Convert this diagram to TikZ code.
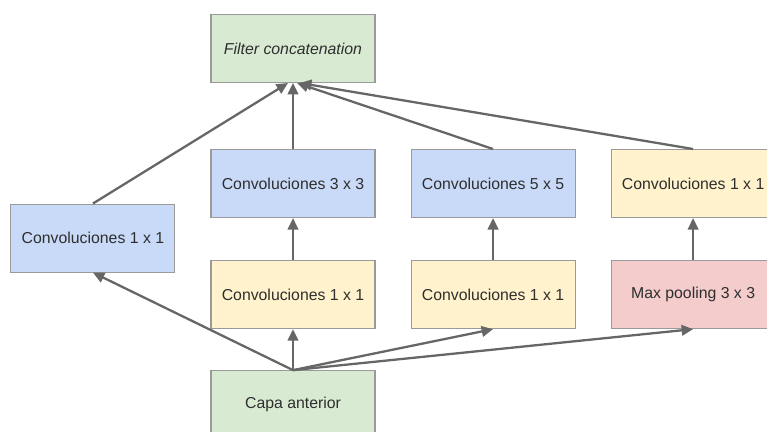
\documentclass[tikz,border=0pt]{standalone}
\usepackage{fontspec}
\setmainfont{Liberation Sans}
\usetikzlibrary{arrows.meta, positioning}
\definecolor{framegray}{HTML}{9A9A9A}
\definecolor{arrowgray}{HTML}{666666}
\definecolor{textgray}{HTML}{2E2E2E}
\definecolor{greenbg}{HTML}{D9EAD3}
\definecolor{bluebg}{HTML}{C9DAF8}
\definecolor{yellowbg}{HTML}{FFF2CC}
\definecolor{redbg}{HTML}{F4CCCC}

\begin{document}
\begin{tikzpicture}[
  >={Triangle[length=6.5pt,width=6pt]},
  every node/.style={font=\fontsize{9}{11}\selectfont},
  layer/.style={draw=framegray, line width=0.6pt, minimum width=3.28cm,
                minimum height=1.36cm, align=center, text=textgray},
  edge/.style={->, line width=1.3pt, color=arrowgray}
]
  % fixed frame, boxes on the right and bottom run past it
  \path[clip, use as bounding box] (-5.86,0.97) rectangle (9.48,-7.67);

  \node[layer, fill=greenbg] (concat) at (0,0) {\textit{Filter concatenation}};
  \node[layer, fill=bluebg, below=1.32cm of concat] (conv3) {Convoluciones 3 x 3};
  \node[layer, fill=bluebg, right=0.7cm of conv3] (conv5) {Convoluciones 5 x 5};
  \node[layer, fill=yellowbg, right=0.7cm of conv5] (convpool) {Convoluciones 1 x 1};
  \node[layer, fill=bluebg, left=0.7cm of conv3, yshift=-1.09cm] (conv1) {Convoluciones 1 x 1};

  \node[layer, fill=yellowbg, below=0.84cm of conv3] (reduce3) {Convoluciones 1 x 1};
  \node[layer, fill=yellowbg, below=0.84cm of conv5] (reduce5) {Convoluciones 1 x 1};
  \node[layer, fill=redbg, below=0.84cm of convpool] (pool) {Max pooling 3 x 3};

  \node[layer, fill=greenbg, below=0.82cm of reduce3] (prev) {Capa anterior};

  % from the previous layer
  \draw[edge] (prev.north) -- (conv1.south);
  \draw[edge] (prev.north) -- (reduce3.south);
  \draw[edge] (prev.north) -- (reduce5.south);
  \draw[edge] (prev.north) -- (pool.south);

  \draw[edge] (reduce3) -- (conv3);
  \draw[edge] (reduce5) -- (conv5);
  \draw[edge] (pool) -- (convpool);

  % into the concatenation
  \draw[edge] (conv1.north) -- ([xshift=-0.1cm]concat.south);
  \draw[edge] (conv3.north) -- (concat.south);
  \draw[edge] (conv5.north) -- ([xshift=0.08cm]concat.south);
  \draw[edge] (convpool.north) -- ([xshift=0.14cm]concat.south);
\end{tikzpicture}
\end{document}
